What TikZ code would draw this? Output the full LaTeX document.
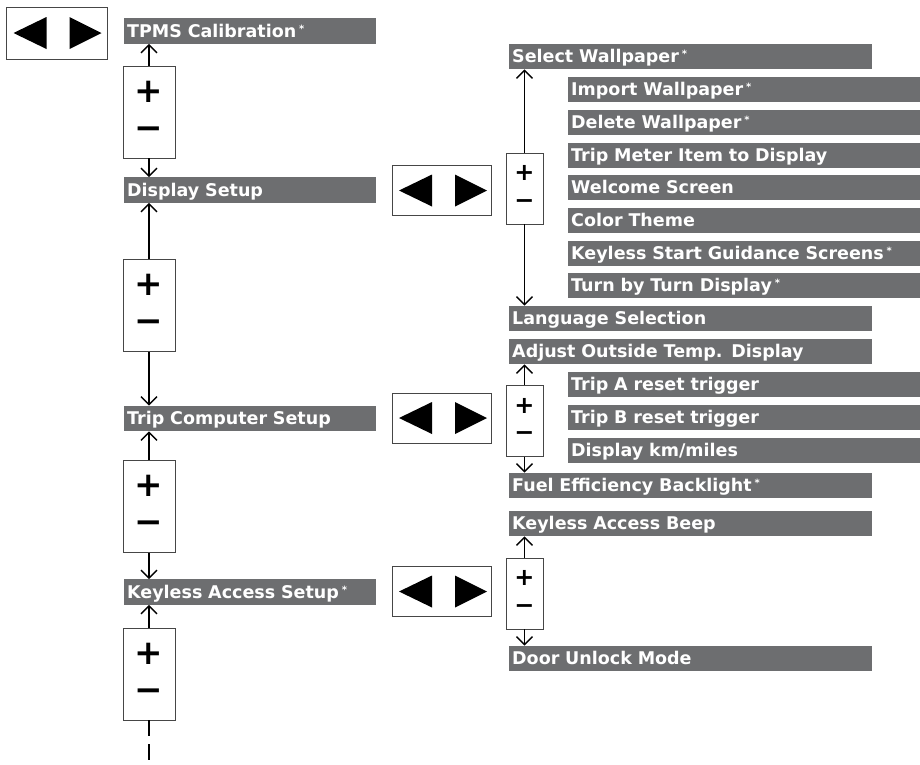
\documentclass[tikz,border=0pt]{standalone}
\usepackage{fontspec}
\setmainfont{DejaVu Sans}
\newfontfamily\signfont{DejaVu Sans}
\usepackage{tikz}
\usetikzlibrary{arrows.meta, positioning, calc}
\definecolor{bargray}{RGB}{109,110,112}
\definecolor{boxline}{RGB}{70,70,70}
\newcommand{\optmark}{\,\raisebox{5pt}{\fontsize{10}{10}\selectfont *}}
\tikzset{
  bar/.style={rectangle, fill=bargray, text=white, anchor=west, align=left,
    font=\fontsize{17.5}{19}\selectfont\bfseries, inner sep=3pt,
    text width=#1, minimum height=25.5pt, text height=12.6pt, text depth=0pt},
  pm/.style={rectangle, draw=boxline, line width=0.9pt, fill=white,
    minimum width=52pt, minimum height=92pt},
  pmsmall/.style={pm, minimum width=37pt, minimum height=71pt},
  nav/.style={rectangle, draw=boxline, line width=0.9pt, fill=white,
    minimum width=99pt, minimum height=50pt},
  sign/.style={font=\signfont\bfseries\fontsize{34}{34}\selectfont, inner sep=0pt},
  signsmall/.style={font=\signfont\bfseries\fontsize{24}{24}\selectfont, inner sep=0pt},
  ar/.style={-{Straight Barb[length=8pt, width=16pt]}, line width=1.3pt},
}

\begin{document}
\begin{tikzpicture}[x=1pt, y=-1pt]
  \useasboundingbox (0,0) rectangle (920,764);

  % main menu column
  \node[bar=246pt] (tpms) at (124,31)    {TPMS Calibration\optmark};
  \node[bar=246pt] (disp) at (124,190)   {Display Setup};
  \node[bar=246pt] (trip) at (124,418.5) {Trip Computer Setup};
  \node[bar=246pt] (key)  at (124,592)   {Keyless Access Setup\optmark};

  \node[pm] (pma) at (149,112)   {};
  \node[pm] (pmb) at (149,305.5) {};
  \node[pm] (pmc) at (149,506.5) {};
  \node[pm] (pmd) at (149,674)   {};
  \foreach \p in {pma,pmb,pmc,pmd} {
    \node[sign] at ($(\p.center)+(0,-20.5)$) {+};
    \node[sign] at ($(\p.center)+(0,21)$) {−};
  }

  \draw[ar] (pma.north) -- (pma.north |- tpms.south);
  \draw[ar] (pma.south) -- (pma.south |- disp.north);
  \draw[ar] (pmb.north) -- (pmb.north |- disp.south);
  \draw[ar] (pmb.south) -- (pmb.south |- trip.north);
  \draw[ar] (pmc.north) -- (pmc.north |- trip.south);
  \draw[ar] (pmc.south) -- (pmc.south |- key.north);
  \draw[ar] (pmd.north) -- (pmd.north |- key.south);
  \coordinate (more) at (149,764);
  \draw[line width=1.3pt, dash pattern=on 16pt off 8pt] (pmd.south) -- (more);

  % left/right keys
  \node[nav, minimum width=101pt, minimum height=52pt] (nava) at (56.5,33) {};
  \node[nav] (navb) at (442,190.5) {};
  \node[nav] (navc) at (442,418)   {};
  \node[nav] (navd) at (442,591.5) {};
  \foreach \n in {nava,navb,navc,navd} {
    \fill ($(\n.center)+(-43,0)$) -- ($(\n.center)+(-10,-16)$) -- ($(\n.center)+(-10,16)$) -- cycle;
    \fill ($(\n.center)+(45,0)$) -- ($(\n.center)+(13,-16)$) -- ($(\n.center)+(13,16)$) -- cycle;
  }

  % display setup items
  \node[bar=357pt] (selw) at (509,56.5)  {Select Wallpaper\optmark};
  \node[bar=346pt] (imp)  at (568,89.5)  {Import Wallpaper\optmark};
  \node[bar=346pt] (del)  at (568,122.5) {Delete Wallpaper\optmark};
  \node[bar=346pt] (tmi)  at (568,155.5) {Trip Meter Item to Display};
  \node[bar=346pt] (wel)  at (568,187.5) {Welcome Screen};
  \node[bar=346pt] (col)  at (568,220.5) {Color Theme};
  \node[bar=346pt] (ksg)  at (568,253.5) {Keyless Start Guidance Screens\optmark};
  \node[bar=346pt] (tbt)  at (568,285.5) {Turn by Turn Display\optmark};
  \node[bar=357pt] (lang) at (509,318.5) {Language Selection};
  \node[bar=357pt] (adj)  at (509,351.5) {Adjust Outside Temp. Display};

  % trip computer items
  \node[bar=346pt] (tra)  at (568,384.5) {Trip A reset trigger};
  \node[bar=346pt] (trb)  at (568,417.5) {Trip B reset trigger};
  \node[bar=346pt] (kmm)  at (568,450.5) {Display km/miles};
  \node[bar=357pt] (fuel) at (509,485.5) {Fuel Efficiency Backlight\optmark};

  % keyless access items
  \node[bar=357pt] (beep) at (509,523.5) {Keyless Access Beep};
  \node[bar=357pt] (door) at (509,658.5) {Door Unlock Mode};

  \node[pmsmall] (pme) at (524.5,188.5) {};
  \node[pmsmall] (pmf) at (524.5,421)   {};
  \node[pmsmall] (pmg) at (524.5,593.5) {};
  \foreach \p in {pme,pmf,pmg} {
    \node[signsmall] at ($(\p.center)+(0,-15.5)$) {+};
    \node[signsmall] at ($(\p.center)+(0,15.5)$) {−};
  }

  \draw[ar] (pme.north) -- (pme.north |- selw.south);
  \draw[ar] (pme.south) -- (pme.south |- lang.north);
  \draw[ar] (pmf.north) -- (pmf.north |- adj.south);
  \draw[ar] (pmf.south) -- (pmf.south |- fuel.north);
  \draw[ar] (pmg.north) -- (pmg.north |- beep.south);
  \draw[ar] (pmg.south) -- (pmg.south |- door.north);
\end{tikzpicture}
\end{document}
